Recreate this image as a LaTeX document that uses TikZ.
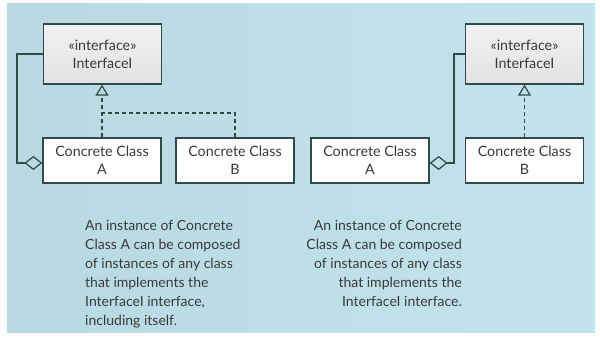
\documentclass[tikz,border=0pt]{standalone}
\usepackage{fontspec}
\setmainfont{Lato}
\usetikzlibrary{arrows.meta}
\definecolor{bgblue}{HTML}{C4E4ED}
\definecolor{bgdark}{HTML}{B9D9E2}
\definecolor{edge}{HTML}{2F4A47}
\definecolor{ink}{HTML}{3A3A3A}
\definecolor{ifaceTop}{HTML}{F2F2F2}
\definecolor{ifaceBot}{HTML}{E2E2E2}
\tikzset{
  classbox/.style={draw=edge, line width=1.3pt, fill=white, minimum width=118pt, minimum height=45pt,
    inner sep=0pt, align=center, font=\fontsize{14.3}{18}\selectfont, text=ink},
  ifacebox/.style={classbox, minimum height=60pt, top color=ifaceTop, bottom color=ifaceBot},
  aggr/.style={draw=edge, line width=1.2pt, -{Diamond[open, length=18pt, width=14pt, line width=1.2pt]}},
  realize/.style={draw=edge, line width=1.2pt, dash pattern=on 4pt off 3pt, -{Triangle[open, length=11pt, width=13pt, line width=1.2pt, sep=0pt]}},
  realline/.style={draw=edge, line width=1.2pt, dash pattern=on 4pt off 3pt},
  para/.style={inner sep=0pt, font=\fontsize{14}{19}\selectfont, text=ink}
}
\begin{document}
\begin{tikzpicture}[x=1pt, y=-1pt]
\useasboundingbox (0,0) rectangle (600,337);
\fill[white] (0,0) rectangle (600,337);
\shade[left color=bgdark, right color=bgblue] (7,4) rectangle (595,332);
% left diagram
\node[ifacebox] (li) at (102.5,54) {«interface»\\InterfaceI};
\node[classbox] (la) at (102,160.5) {Concrete Class\\A};
\node[classbox] (lb) at (235,160.5) {Concrete Class\\B};
\coordinate (lc1) at (17,54);
\coordinate (lc2) at (17,163);
\coordinate (lj) at (la.north |- 0,113);
\draw[aggr] (li.west) -- (lc1) -- (lc2) -- (la.west |- lc2);
\draw[realize] (la.north) -- (li.south -| la.north);
\draw[realline] (lb.north) |- (lj);
% right diagram
\node[ifacebox] (ri) at (524.5,54) {«interface»\\InterfaceI};
\node[classbox] (ra) at (370,160.5) {Concrete Class\\A};
\node[classbox] (rb) at (524.5,160.5) {Concrete Class\\B};
\coordinate (rc1) at (454,54);
\coordinate (rc2) at (454,163);
\draw[aggr] (ri.west) -- (rc1) -- (rc2) -- (ra.east |- rc2);
\draw[realize] (rb.north) -- (ri.south);
% texts
\node[para, anchor=north west, align=left] (lt) at (85,220) {An instance of Concrete\\Class A can be composed\\of instances of any class\\that implements the\\InterfaceI interface,\\including itself.};
\node[para, anchor=north east, align=right] (rt) at (462,220) {An instance of Concrete\\Class A can be composed\\of instances of any class\\that implements the\\InterfaceI interface.};
\end{tikzpicture}
\end{document}
